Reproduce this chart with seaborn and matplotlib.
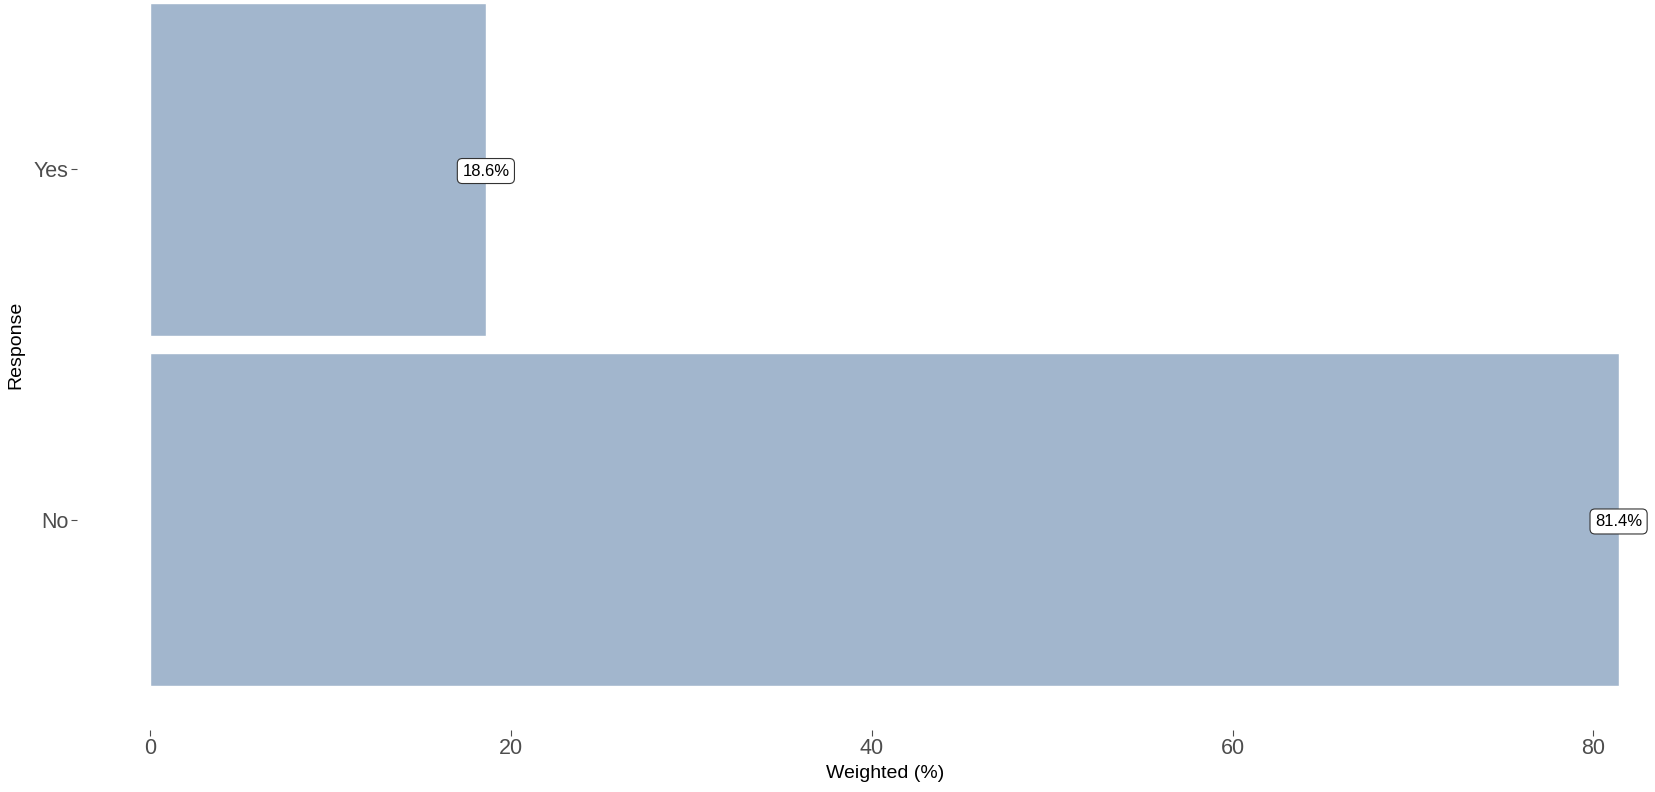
# plot.py
# Weighted share of responses (Yes / No), horizontal bars

import matplotlib
matplotlib.use('Agg')
import matplotlib.pyplot as plt
import pandas as pd
import seaborn as sns

# ── Data ───────────────────────────────────────────────
responses = ['Yes', 'No']
weighted_pct = [18.6, 81.4]
x_ticks = [0, 20, 40, 60, 80]

BAR_COLOR = '#A2B6CD'
TICK_COLOR = '#4D4D4D'

df = pd.DataFrame({'Response': responses, 'Weighted': weighted_pct})

sns.set_theme(style='white')
plt.rcParams['font.family'] = ['Liberation Sans', 'DejaVu Sans']

W, H = 1656, 792
fig = plt.figure(figsize=(W / 100, H / 100), dpi=100)

# panel in pixels (reference is cropped, so the panel runs past the edges)
left, right, top, bottom = 77, 1692, -41, 730
ax = fig.add_axes([left / W, (H - bottom) / H,
                   (right - left) / W, (bottom - top) / H])

sns.barplot(data=df, y='Response', x='Weighted', order=responses,
            color=BAR_COLOR, saturation=1, width=0.95, orient='h', ax=ax)

# value labels, centred on bar ends
for i, v in enumerate(weighted_pct):
    ax.text(v, i + 0.005, f'{v:.1f}%', ha='center', va='center', fontsize=12,
            color='black',
            bbox=dict(boxstyle='round,pad=0.3,rounding_size=0.3',
                      fc='white', ec='#333333', lw=0.8))

vmax = max(weighted_pct)
ax.set_xlim(-0.05 * vmax, vmax * 1.05)
ax.set_ylim(1.6, -0.6)
ax.set_xticks(x_ticks)

sns.despine(ax=ax, left=True, bottom=True)
ax.grid(False)
ax.tick_params(axis='both', which='both', length=4, width=0.8,
               color=TICK_COLOR, labelcolor=TICK_COLOR, labelsize=15.5,
               pad=2, bottom=True, left=True)

ax.set_xlabel('Weighted (%)', fontsize=14, color='black')
ax.set_ylabel('Response', fontsize=14, color='black')
ax.xaxis.set_label_coords((885 - left) / (right - left),
                          -(774 - bottom) / (bottom - top))
ax.xaxis.label.set_va('center')
ax.yaxis.set_label_coords((16 - left) / (right - left), 0.5)
ax.yaxis.label.set_va('center')

plt.savefig('out.png', dpi=100)
plt.close()
